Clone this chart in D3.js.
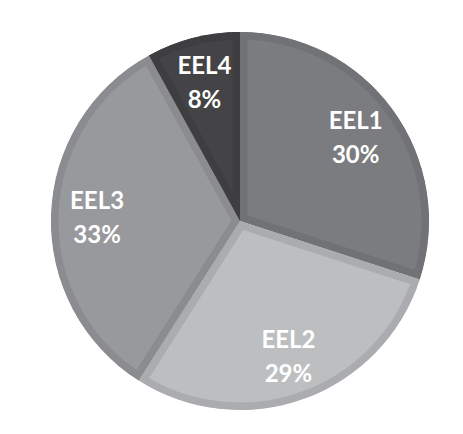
<!DOCTYPE html>
<html>
<head>
<meta charset="utf-8">
<script src="https://cdn.jsdelivr.net/npm/d3@7"></script>
<style>
  body { margin: 0; background: #fff; }
</style>
</head>
<body>
<div class="chart"></div>
<script>
var svgWidth = 463;
var svgHeight = 434;

// data
var labels = ["EEL1", "EEL2", "EEL3", "EEL4"];
var shares = [30, 29, 33, 8];
var fills = ["#7b7c7f", "#bdbec0", "#98999c", "#444446"];
var edges = ["#717275", "#aaacaf", "#8b8c8f", "#3e3e40"];

var cx = 240, cy = 221, radius = 189;

var svg = d3.select(".chart")
  .append("svg")
  .attr("width", svgWidth)
  .attr("height", svgHeight);

var g = svg.append("g")
  .attr("transform", `translate(${cx}, ${cy})`);

var pie = d3.pie().sort(null).value(function(d) { return d; });
var arcs = pie(shares);

var arc = d3.arc().innerRadius(0).outerRadius(radius);
var labelArc = d3.arc().innerRadius(143).outerRadius(143);

var defs = svg.append("defs");
arcs.forEach(function(a, i) {
  defs.append("clipPath")
    .attr("id", "clip" + i)
    .append("path")
    .attr("d", arc(a));
});

// slices, with an inner darker border (stroke clipped to the slice)
g.selectAll("path.slice")
  .data(arcs)
  .enter()
  .append("path")
  .attr("class", "slice")
  .attr("d", arc)
  .attr("clip-path", function(d, i) { return "url(#clip" + i + ")"; })
  .style("fill", function(d, i) { return fills[i]; })
  .style("stroke", function(d, i) { return edges[i]; })
  .style("stroke-width", 15)
  .style("stroke-linejoin", "miter");

// labels
var txt = g.selectAll("text.lab")
  .data(arcs)
  .enter()
  .append("text")
  .attr("class", "lab")
  .attr("transform", function(d) { return "translate(" + labelArc.centroid(d) + ")"; })
  .attr("text-anchor", "middle")
  .style("font-family", "Lato, 'Open Sans', sans-serif")
  .style("font-weight", 700)
  .style("font-size", "24px")
  .style("fill", "#fff");

txt.append("tspan")
  .attr("x", 0)
  .attr("y", -8)
  .text(function(d, i) { return labels[i]; });
txt.append("tspan")
  .attr("x", 0)
  .attr("y", 26)
  .text(function(d, i) { return shares[i] + "%"; });
</script>
</body>
</html>
